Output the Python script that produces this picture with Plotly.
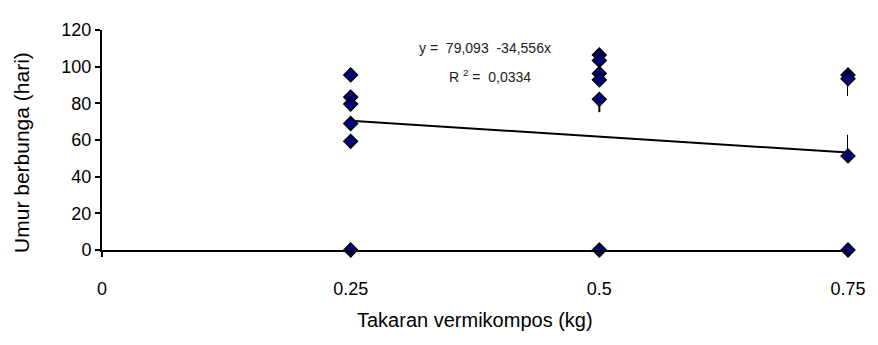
import plotly.graph_objects as go

# Data
dose = [0.25, 0.25, 0.25, 0.25, 0.25, 0.25,
        0.5, 0.5, 0.5, 0.5, 0.5, 0.5,
        0.75, 0.75, 0.75, 0.75]
days = [95.5, 83.4, 79.6, 69, 59.3, 0,
        106.4, 103.4, 96.3, 92.8, 82.2, 0,
        95.5, 93.4, 51.3, 0]
err_plus = [0, 0, 0, 0, 0, 0,
            0, 0, 0, 0, 0, 0,
            0, 0, 11.5, 0]
err_minus = [0, 0, 0, 0, 0, 0,
             0, 0, 0, 0, 7, 0,
             0, 9.4, 0, 0]
intercept = 79.093
slope = -34.556
trend_x = [0.25, 0.75]
x_ticks = [0, 0.25, 0.5, 0.75]
x_tick_text = ["0", "0.25", "0.5", "0.75"]
y_ticks = [0, 20, 40, 60, 80, 100, 120]

trend_y = [intercept + slope * v for v in trend_x]

FONT = "Liberation Sans, Arial, sans-serif"
NB = "\u00a0"

fig = go.Figure()
fig.add_trace(go.Scatter(
    x=trend_x, y=trend_y, mode="lines",
    line=dict(color="black", width=2), hoverinfo="skip", showlegend=False))
fig.add_trace(go.Scatter(
    x=dose, y=days, mode="markers",
    marker=dict(symbol="diamond", size=10.5, color="#000080",
                line=dict(color="black", width=1.5)),
    error_y=dict(type="data", symmetric=False, array=err_plus,
                 arrayminus=err_minus, color="black", thickness=2, width=0),
    showlegend=False, cliponaxis=False))

# page body has an 8px default margin, so the figure is 8px smaller
fig.update_layout(
    width=870, height=337,
    margin=dict(l=94, r=27, t=16, b=95),
    paper_bgcolor="white", plot_bgcolor="white",
    font=dict(family=FONT, size=18, color="black"),
    xaxis=dict(range=[0, 0.75], tickvals=x_ticks, ticktext=x_tick_text,
               showgrid=False, zeroline=False, showline=True,
               linecolor="black", linewidth=2, ticks="outside",
               ticklen=5, tickwidth=1.5, tickcolor="black",
               ticklabelstandoff=16, ticklabeloverflow="allow",
               tickfont=dict(size=18)),
    yaxis=dict(range=[0, 120], tickvals=y_ticks,
               showgrid=False, zeroline=False, showline=True,
               linecolor="black", linewidth=2, ticks="outside",
               ticklen=5, tickwidth=1.5, tickcolor="black",
               tickfont=dict(size=18)),
)

fig.add_annotation(text="Umur berbunga (hari)", textangle=-90,
                   xref="paper", yref="paper", x=-0.107, y=0.442,
                   xanchor="center", yanchor="middle", showarrow=False,
                   font=dict(size=21, family=FONT))
fig.add_annotation(text="Takaran vermikompos (kg)",
                   xref="paper", yref="paper", x=0.5, y=-0.319,
                   xanchor="center", yanchor="middle", showarrow=False,
                   font=dict(size=20, family=FONT))
fig.add_annotation(text="y" + NB + "=" + NB + NB + "79,093" + NB + NB + "-34,556x",
                   xref="paper", yref="paper", x=0.513, y=0.920,
                   xanchor="center", yanchor="middle", showarrow=False,
                   font=dict(size=14, family=FONT, color="#222"))
fig.add_annotation(text="R" + NB + "<sup>2</sup>" + NB + "=" + NB + NB + "0,0334",
                   xref="paper", yref="paper", x=0.520, y=0.792,
                   xanchor="center", yanchor="middle", showarrow=False,
                   font=dict(size=14, family=FONT, color="#222"))

fig.write_html("out.html")
